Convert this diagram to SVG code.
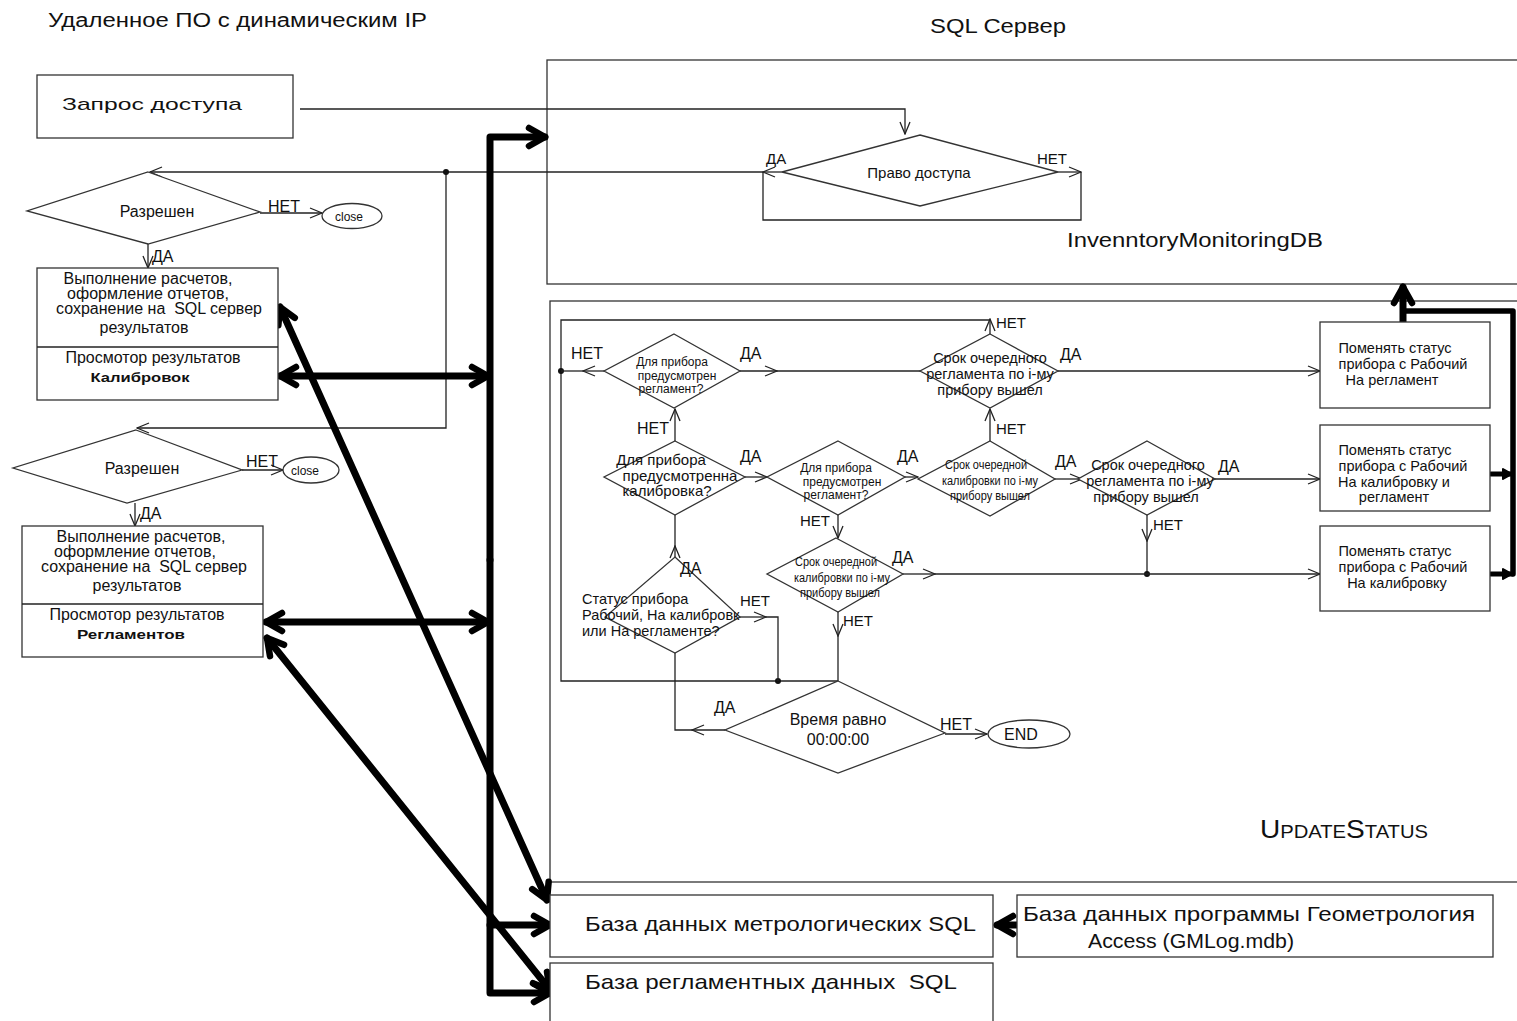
<svg xmlns="http://www.w3.org/2000/svg" width="1517" height="1021" viewBox="0 0 1517 1021">
<style>
text{font-family:"Liberation Sans",Arial,sans-serif;fill:#111}
.t{stroke:#222;stroke-width:1.3;fill:none}
.b{fill:#fff;stroke:#333;stroke-width:1.3}
.k{stroke:#000;stroke-width:7;fill:none;stroke-linecap:round;stroke-linejoin:round}
.c{text-anchor:middle}
.s12{font-size:12px}
.s14{font-size:14.5px}
.s16{font-size:16px}
.s15{font-size:15px}
.s20{font-size:20px}
.s21{font-size:21px}
</style>
<defs>
<marker id="a" viewBox="0 0 14 12" refX="13" refY="6" markerWidth="14" markerHeight="12" markerUnits="userSpaceOnUse" orient="auto-start-reverse">
<path d="M1,1 L13,6 L1,11" fill="none" stroke="#222" stroke-width="1.3"/>
</marker>
<marker id="K" viewBox="0 0 26 26" refX="21" refY="13" markerWidth="26" markerHeight="26" markerUnits="userSpaceOnUse" orient="auto-start-reverse">
<path d="M5,4 L21,13 L5,22" fill="none" stroke="#000" stroke-width="6.5" stroke-linecap="round" stroke-linejoin="round"/>
</marker>
<marker id="ks" viewBox="0 0 14 14" refX="12" refY="7" markerWidth="14" markerHeight="14" markerUnits="userSpaceOnUse" orient="auto">
<path d="M3,2 L12,7 L3,12 Z" fill="#000" stroke="#000" stroke-width="2" stroke-linejoin="round"/>
</marker>
</defs>
<rect width="1517" height="1021" fill="#fff"/>

<text x="48" y="27" class="s20" textLength="379" lengthAdjust="spacingAndGlyphs">Удаленное ПО с динамическим IP</text>
<text x="930" y="33" class="s20" textLength="136" lengthAdjust="spacingAndGlyphs">SQL Сервер</text>

<g id="sql-server"><rect x="547" y="60" width="990" height="224" class="b"/>
<text x="1067" y="247" class="s20" textLength="256" lengthAdjust="spacingAndGlyphs">InvenntoryMonitoringDB</text></g>
<g id="update-status"><rect x="550" y="301" width="990" height="581" class="b"/>
<text x="1260" y="838" style="font-size:25px;font-variant:small-caps" textLength="168" lengthAdjust="spacingAndGlyphs">UpdateStatus</text></g>

<g id="connectors">
<path d="M300,109 H905 V134" class="t" marker-end="url(#a)"/>
<path d="M782,172 H763" class="t" marker-end="url(#a)"/>
<path d="M763,172 H150" class="t" marker-end="url(#a)"/>
<path d="M763,172 V220 H1081 V172" class="t"/>
<path d="M1058,172 H1081" class="t" marker-end="url(#a)"/>
<path d="M446,172 V428 H137" class="t" marker-end="url(#a)"/>
<circle cx="446" cy="172" r="3" fill="#111"/>
<path d="M260,213 H322" class="t" marker-end="url(#a)"/>
<path d="M148,244 V268" class="t" marker-end="url(#a)"/>
<path d="M242,470 H283" class="t" marker-end="url(#a)"/>
<path d="M135,503 V526" class="t" marker-end="url(#a)"/>

<path d="M990,334 V319" class="t" marker-end="url(#a)"/>
<path d="M990,320 H561 V681 H838" class="t"/>
<circle cx="561" cy="371" r="3" fill="#111"/>
<circle cx="778" cy="681" r="3" fill="#111"/>
<path d="M604,371 H583" class="t" marker-end="url(#a)"/>
<path d="M583,371 H561" class="t"/>
<path d="M740,371 H777" class="t" marker-end="url(#a)"/>
<path d="M777,371 H920" class="t"/>
<path d="M1058,371 H1320" class="t" marker-end="url(#a)"/>
<path d="M675,441 V409" class="t" marker-end="url(#a)"/>
<path d="M745,477 H767" class="t" marker-end="url(#a)"/>
<path d="M905,477 H918" class="t" marker-end="url(#a)"/>
<path d="M838,515 V538" class="t" marker-end="url(#a)"/>
<path d="M990,441 V409" class="t" marker-end="url(#a)"/>
<path d="M1055,479 H1082" class="t" marker-end="url(#a)"/>
<path d="M1215,479 H1320" class="t" marker-end="url(#a)"/>
<path d="M1147,515 V541" class="t" marker-end="url(#a)"/>
<path d="M1147,541 V574" class="t"/>
<circle cx="1147" cy="574" r="3" fill="#111"/>
<path d="M903,574 H935" class="t" marker-end="url(#a)"/>
<path d="M935,574 H1320" class="t" marker-end="url(#a)"/>
<path d="M838,612 V636" class="t" marker-end="url(#a)"/>
<path d="M838,636 V681" class="t"/>
<path d="M675,547 V515" class="t"/>
<path d="M675,560 V546" class="t" marker-end="url(#a)"/>
<path d="M740,617 H766" class="t" marker-end="url(#a)"/>
<path d="M766,617 H778 V681" class="t"/>
<path d="M725,730 H692" class="t" marker-end="url(#a)"/>
<path d="M692,730 H675 V653" class="t"/>
<path d="M945,734 H987" class="t" marker-end="url(#a)"/>

<path d="M490,560 V137 H545" class="k" marker-end="url(#K)"/>
<path d="M490,560 V993 H550" class="k" marker-end="url(#K)"/>
<path d="M490,925 H550" class="k" marker-end="url(#K)"/>
<path d="M280,376 H488" class="k" marker-start="url(#K)" marker-end="url(#K)"/>
<path d="M266,622 H488" class="k" marker-start="url(#K)" marker-end="url(#K)"/>
<path d="M280,307 L547,900" class="k" marker-start="url(#K)" marker-end="url(#K)"/>
<path d="M267,638 L550,990" class="k" marker-start="url(#K)" marker-end="url(#K)"/>
<path d="M1017,925 H997" class="k" marker-end="url(#K)"/>
<path d="M1403,322 V287" class="k" marker-end="url(#K)"/>
<path d="M1403,311 H1513 V574" class="k" style="stroke-width:5.5"/>
<path d="M1491,474 H1512" class="k" style="stroke-width:5" marker-end="url(#ks)"/>
<path d="M1491,574 H1512" class="k" style="stroke-width:5" marker-end="url(#ks)"/>
</g>

<g id="n-zapros"><rect x="37" y="75" width="256" height="63" class="b"/>
<text x="62" y="110" style="font-size:17px" textLength="180" lengthAdjust="spacingAndGlyphs">Запрос доступа</text></g>

<g id="n-pravo"><polygon points="920,135 1058,172 920,206 782,172" class="b"/>
<text x="919" y="178" class="c s15">Право доступа</text></g>

<g id="n-razreshen1"><polygon points="148,172 260,212 148,244 27,211" class="b"/>
<text x="157" y="217" class="c s16">Разрешен</text></g>
<g id="n-close1"><ellipse cx="352" cy="216" rx="30" ry="12.5" class="b"/>
<text x="349" y="221" class="c" style="font-size:13px" textLength="28" lengthAdjust="spacingAndGlyphs">close</text></g>

<g id="n-box1"><rect x="37" y="268" width="241" height="132" class="b"/>
<line x1="37" y1="347" x2="278" y2="347" class="t"/>
<text class="c s16"><tspan x="148" y="284">Выполнение расчетов,</tspan><tspan x="148" y="299">оформление отчетов,</tspan><tspan x="159" y="314">сохранение на&#160; SQL сервер</tspan><tspan x="144" y="333">результатов</tspan><tspan x="153" y="363">Просмотор результатов</tspan></text>
<text x="140" y="382" class="c" style="font-size:13px;font-weight:bold" textLength="99" lengthAdjust="spacingAndGlyphs">Калибровок</text></g>

<g id="n-razreshen2"><polygon points="136,430 242,470 127,503 13,468" class="b"/>
<text x="142" y="474" class="c s16">Разрешен</text></g>
<g id="n-close2"><ellipse cx="311" cy="470" rx="28" ry="13" class="b"/>
<text x="305" y="475" class="c" style="font-size:13px" textLength="28" lengthAdjust="spacingAndGlyphs">close</text></g>

<g id="n-box2"><rect x="22" y="526" width="241" height="131" class="b"/>
<line x1="22" y1="604" x2="263" y2="604" class="t"/>
<text class="c s16"><tspan x="141" y="542">Выполнение расчетов,</tspan><tspan x="135" y="557">оформление отчетов,</tspan><tspan x="144" y="572">сохранение на&#160; SQL сервер</tspan><tspan x="137" y="591">результатов</tspan><tspan x="137" y="620">Просмотор результатов</tspan></text>
<text x="131" y="639" class="c" style="font-size:13px;font-weight:bold" textLength="108" lengthAdjust="spacingAndGlyphs">Регламентов</text></g>

<g id="n-d1"><polygon points="674,334 740,371 674,408 604,371" class="b"/>
<text class="c s12"><tspan x="672" y="366">Для прибора</tspan><tspan x="677" y="380">предусмотрен</tspan><tspan x="671" y="393">регламент?</tspan></text></g>

<g id="n-d2"><polygon points="990,334 1058,371 990,408 920,371" class="b"/>
<text class="c s14"><tspan x="990" y="363">Срок очередного</tspan><tspan x="990" y="379">регламента по i-му</tspan><tspan x="990" y="395">прибору вышел</tspan></text></g>

<g id="n-d3"><polygon points="675,441 745,477 675,515 604,477" class="b"/>
<text class="c s15"><tspan x="661" y="465">Для прибора</tspan><tspan x="680" y="481">предусмотренна</tspan><tspan x="667" y="496">калибровка?</tspan></text></g>

<g id="n-d4"><polygon points="838,441 905,477 838,515 767,477" class="b"/>
<text class="c s12"><tspan x="836" y="472">Для прибора</tspan><tspan x="842" y="486">предусмотрен</tspan><tspan x="836" y="499">регламент?</tspan></text></g>

<g id="n-d5"><polygon points="990,441 1055,479 990,516 918,479" class="b"/>
<text class="c" style="font-size:12px"><tspan x="986" y="469" textLength="82" lengthAdjust="spacingAndGlyphs">Срок очередной</tspan><tspan x="990" y="485" textLength="96" lengthAdjust="spacingAndGlyphs">калибровки по i-му</tspan><tspan x="990" y="500" textLength="80" lengthAdjust="spacingAndGlyphs">прибору вышел</tspan></text></g>

<g id="n-d7"><polygon points="1147,441 1215,479 1147,515 1078,479" class="b"/>
<text class="c s14"><tspan x="1148" y="470">Срок очередного</tspan><tspan x="1150" y="486">регламента по i-му</tspan><tspan x="1146" y="502">прибору вышел</tspan></text></g>

<g id="n-d6"><polygon points="836,538 903,574 838,612 767,574" class="b"/>
<text class="c" style="font-size:12px"><tspan x="836" y="566" textLength="82" lengthAdjust="spacingAndGlyphs">Срок очередной</tspan><tspan x="842" y="582" textLength="96" lengthAdjust="spacingAndGlyphs">калибровки по i-му</tspan><tspan x="840" y="597" textLength="80" lengthAdjust="spacingAndGlyphs">прибору вышел</tspan></text></g>

<g id="n-d8"><polygon points="675,557 740,617 675,653 605,617" class="b"/>
<text class="s14"><tspan x="582" y="604">Статус прибора</tspan><tspan x="582" y="620">Рабочий, На калибровк</tspan><tspan x="582" y="636">или На регламенте?</tspan></text></g>

<g id="n-d9"><polygon points="838,681 945,733 838,773 725,730" class="b"/>
<text class="c s16"><tspan x="838" y="725">Время равно</tspan><tspan x="838" y="745">00:00:00</tspan></text></g>

<g id="n-end"><ellipse cx="1029" cy="734" rx="41" ry="14" class="b"/>
<text x="1021" y="740" class="c s16">END</text></g>

<g id="n-r1"><rect x="1320" y="322" width="170" height="86" class="b"/>
<text class="c s14"><tspan x="1395" y="353">Поменять статус</tspan><tspan x="1403" y="369">прибора с Рабочий</tspan><tspan x="1392" y="385">На регламент</tspan></text></g>
<g id="n-r2"><rect x="1320" y="425" width="170" height="86" class="b"/>
<text class="c s14"><tspan x="1395" y="455">Поменять статус</tspan><tspan x="1403" y="471">прибора с Рабочий</tspan><tspan x="1394" y="487">На калибровку и</tspan><tspan x="1394" y="502">регламент</tspan></text></g>
<g id="n-r3"><rect x="1320" y="526" width="170" height="85" class="b"/>
<text class="c s14"><tspan x="1395" y="556">Поменять статус</tspan><tspan x="1403" y="572">прибора с Рабочий</tspan><tspan x="1397" y="588">На калибровку</tspan></text></g>

<g id="n-db-metro"><rect x="550" y="895" width="443" height="62" class="b"/>
<text x="585" y="931" class="s21" textLength="391" lengthAdjust="spacingAndGlyphs">База данных метрологических SQL</text></g>
<g id="n-db-regl"><rect x="550" y="963" width="443" height="70" class="b"/>
<text x="585" y="989" class="s21" textLength="372" lengthAdjust="spacingAndGlyphs">База регламентных данных&#160; SQL</text></g>
<g id="n-db-gm"><rect x="1017" y="895" width="476" height="62" class="b"/>
<text class="s21"><tspan x="1023" y="921" textLength="452" lengthAdjust="spacingAndGlyphs">База данных программы Геометрология</tspan><tspan x="1088" y="948" textLength="206" lengthAdjust="spacingAndGlyphs">Access (GMLog.mdb)</tspan></text></g>

<g id="labels" class="s16">
<text x="766" y="164" style="font-size:15px">ДА</text>
<text x="1037" y="164" style="font-size:15px">НЕТ</text>
<text x="268" y="212">НЕТ</text>
<text x="152" y="262">ДА</text>
<text x="246" y="467">НЕТ</text>
<text x="140" y="519">ДА</text>
<text x="571" y="359">НЕТ</text>
<text x="740" y="359">ДА</text>
<text x="996" y="328" class="s15">НЕТ</text>
<text x="1060" y="360">ДА</text>
<text x="637" y="434">НЕТ</text>
<text x="740" y="462">ДА</text>
<text x="996" y="434" class="s15">НЕТ</text>
<text x="897" y="462">ДА</text>
<text x="1055" y="467">ДА</text>
<text x="1218" y="472">ДА</text>
<text x="800" y="526" class="s15">НЕТ</text>
<text x="1153" y="530" class="s15">НЕТ</text>
<text x="892" y="563">ДА</text>
<text x="680" y="574">ДА</text>
<text x="740" y="606" class="s15">НЕТ</text>
<text x="843" y="626" class="s15">НЕТ</text>
<text x="714" y="713">ДА</text>
<text x="940" y="730">НЕТ</text>
</g>
</svg>
